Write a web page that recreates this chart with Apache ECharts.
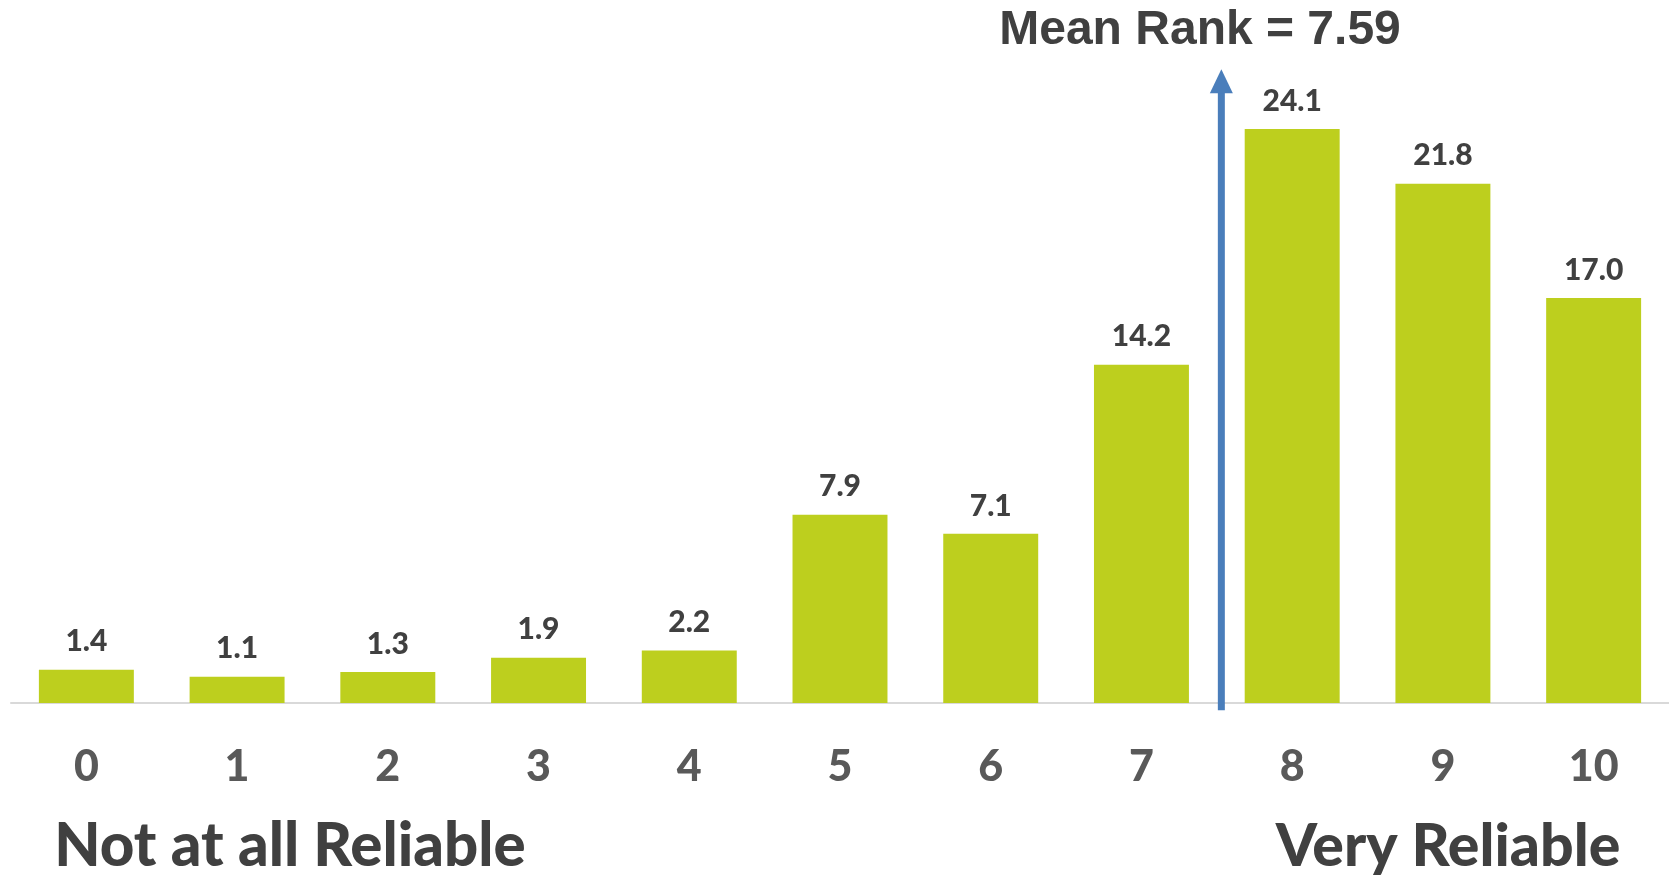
<!DOCTYPE html>
<html>
<head>
<meta charset="utf-8">
<script src="https://cdn.jsdelivr.net/npm/echarts@6/dist/echarts.min.js"></script>
<style>
html,body{margin:0;padding:0;background:#fff;}
#chart{width:1669px;height:875px;}
</style>
</head>
<body>
<div id="chart"></div>
<script>
var categories = ['0','1','2','3','4','5','6','7','8','9','10'];
var percentages = [1.4, 1.1, 1.3, 1.9, 2.2, 7.9, 7.1, 14.2, 24.1, 21.8, 17.0];
var meanLabel = 'Mean Rank = 7.59';
var arrowX = 7.53;        // arrow position on the 0-10 scale (as drawn)
var arrowRange = [-0.3, 26.6];
var leftEndLabel = 'Not at all Reliable';
var rightEndLabel = 'Very Reliable';

var chart = echarts.init(document.getElementById('chart'));
var option = {
  animation: false,
  grid: { left: 11, right: 0, top: 36, bottom: 172, containLabel: false },
  xAxis: [{
    type: 'category',
    data: categories,
    axisLine: { show: true, lineStyle: { color: '#D9D9D9', width: 2 } },
    axisTick: { show: false },
    axisLabel: { color: '#595959', fontFamily: 'Lato', fontWeight: 900, fontSize: 43, margin: 43 }
  }, {
    type: 'value', min: -0.5, max: 10.5, show: false
  }],
  yAxis: { type: 'value', min: 0, max: 28, show: false },
  graphic: [
    { type: 'text', x: 1200, y: 31, style: { text: meanLabel, textAlign: 'center', textVerticalAlign: 'middle', fill: '#404040', font: 'bold 48px "Liberation Sans", Arial, sans-serif' } },
    { type: 'text', x: 290, y: 847, style: { text: leftEndLabel, textAlign: 'center', textVerticalAlign: 'middle', fill: '#404040', font: '900 60px Lato, sans-serif' } },
    { type: 'text', x: 1448, y: 847, style: { text: rightEndLabel, textAlign: 'center', textVerticalAlign: 'middle', fill: '#404040', font: '900 59px Lato, sans-serif' } }
  ],
  series: [{
    type: 'bar',
    data: percentages,
    barCategoryGap: '37%',
    itemStyle: { color: '#BDCF1E' },
    label: {
      show: true, position: 'top', distance: 13,
      color: '#404040', fontFamily: 'Lato', fontWeight: 900, fontSize: 30,
      formatter: function (p) { return p.value.toFixed(1); }
    }
  }, {
    type: 'custom',
    xAxisIndex: 1,
    yAxisIndex: 0,
    data: [[arrowX, arrowRange[0], arrowRange[1]]],
    renderItem: function (params, api) {
      var p0 = api.coord([api.value(0), api.value(1)]);
      var p1 = api.coord([api.value(0), api.value(2)]);
      var head = 24, half = 11.5;
      return {
        type: 'group',
        children: [
          { type: 'line', shape: { x1: p0[0], y1: p0[1], x2: p1[0], y2: p1[1] + head - 2 }, style: { stroke: '#4A7EBB', lineWidth: 7 } },
          { type: 'polygon', shape: { points: [[p1[0], p1[1]], [p1[0] - half, p1[1] + head], [p1[0] + half, p1[1] + head]] }, style: { fill: '#4A7EBB' } }
        ]
      };
    },
    z: 5
  }]
};
chart.setOption(option);
</script>
</body>
</html>
